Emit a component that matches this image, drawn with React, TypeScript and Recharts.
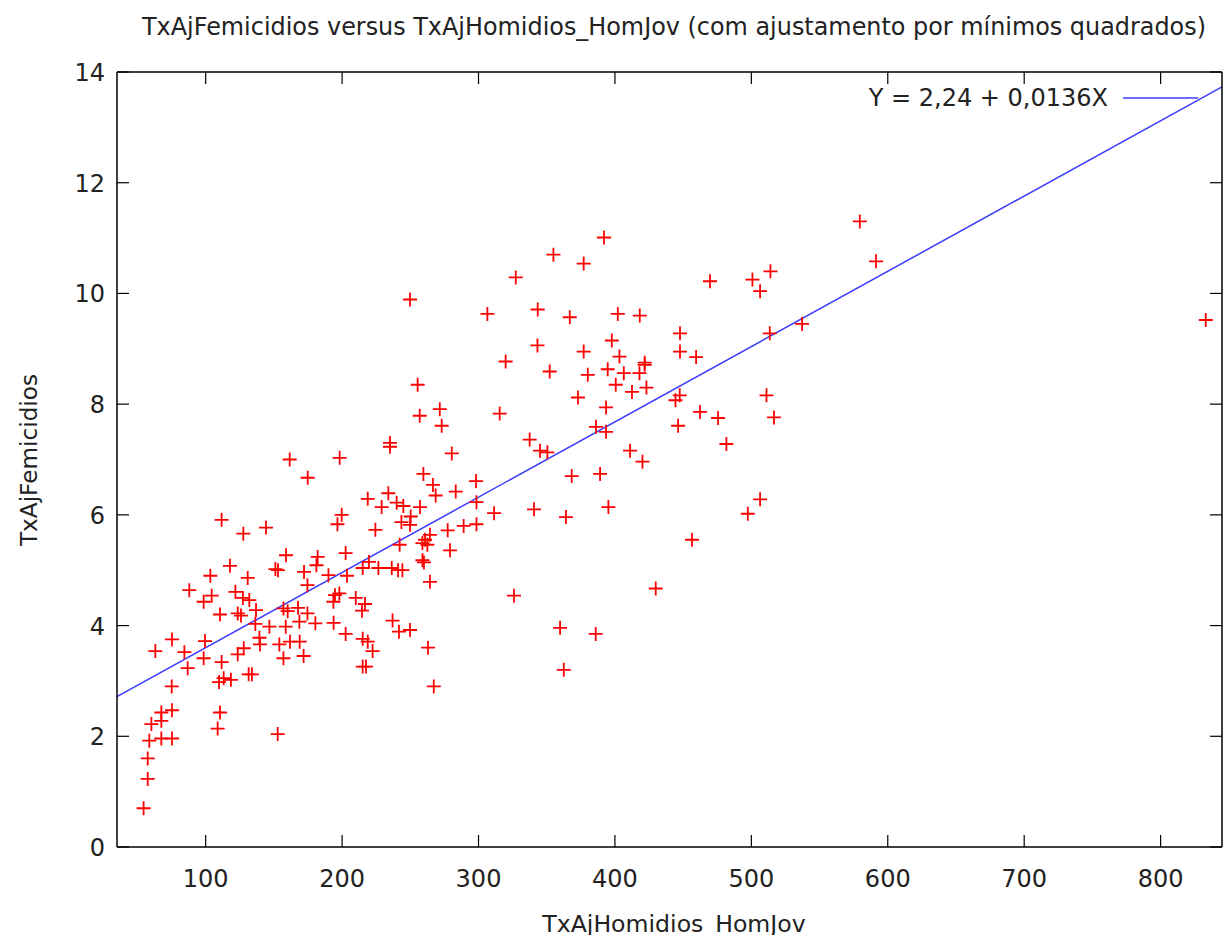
import React from 'react';
import { ScatterChart, Scatter, XAxis, YAxis, ReferenceLine, Customized } from 'recharts';

// TxAjHomidios_HomJov (x) per municipality
const homJov = [
  392.0, 354.9, 377.1, 327.3, 249.8, 306.5, 343.4, 366.9, 402.1, 418.2,
  343.2, 397.7, 377.1, 403.3, 421.8, 421.8, 319.9, 352.2, 380.1, 394.7,
  406.5, 418.0, 255.4, 400.6, 412.5, 423.1, 372.9, 393.5, 256.9, 271.6,
  273.0, 315.5, 386.1, 393.5, 235.1, 235.1, 337.5, 345.1, 350.5, 280.4,
  411.1, 579.5, 591.4, 469.7, 514.0, 500.8, 506.4, 537.2, 447.7, 513.5,
  447.7, 459.5, 447.5, 444.4, 511.1, 462.4, 475.6, 516.6, 446.3, 481.7,
  420.2, 506.4, 497.4, 456.5, 429.9, 833.1, 161.6, 198.2, 174.8, 218.8,
  233.9, 229.0, 199.7, 196.6, 224.4, 111.7, 127.6, 144.2, 158.9, 182.1,
  181.2, 202.6, 219.7, 215.1, 226.6, 236.4, 117.8, 151.1, 153.0, 172.1,
  103.4, 130.8, 190.0, 203.6, 174.6, 88.0, 121.8, 104.4, 98.5, 127.3,
  132.0, 194.8, 198.0, 193.6, 210.0, 216.8, 136.9, 110.5, 123.5, 125.9,
  157.0, 160.1, 167.7, 174.6, 214.6, 136.4, 146.7, 158.7, 168.7, 180.4,
  193.8, 237.0, 202.6, 75.3, 99.5, 139.4, 139.8, 154.0, 161.8, 168.9,
  215.1, 218.8, 63.1, 84.4, 127.9, 123.5, 222.4, 98.5, 86.8, 111.7,
  157.0, 171.8, 215.1, 217.5, 131.5, 133.9, 113.2, 109.8, 118.5, 75.1,
  67.5, 75.3, 67.5, 60.2, 110.5, 108.8, 58.7, 67.5, 75.3, 152.8,
  57.5, 57.5, 54.5, 259.6, 368.3, 389.1, 266.6, 268.6, 283.3, 298.2,
  298.5, 240.0, 244.9, 257.1, 311.4, 340.7, 364.1, 395.2, 250.3, 243.5,
  249.8, 289.1, 298.5, 277.4, 264.4, 260.8, 258.9, 262.5, 242.2, 279.1,
  258.9, 260.0, 241.0, 244.2, 264.4, 326.0, 241.7, 249.8, 359.8, 385.9,
  263.0, 362.5, 267.2,
];

// TxAjFemicidios (y), same order as homJov
const femicidios = [
  11.01, 10.70, 10.54, 10.29, 9.89, 9.63, 9.71, 9.57, 9.63, 9.60,
  9.06, 9.15, 8.95, 8.86, 8.75, 8.71, 8.77, 8.59, 8.53, 8.63,
  8.56, 8.56, 8.35, 8.35, 8.22, 8.30, 8.12, 7.94, 7.79, 7.91,
  7.61, 7.83, 7.59, 7.50, 7.30, 7.23, 7.36, 7.16, 7.13, 7.11,
  7.16, 11.30, 10.58, 10.22, 10.40, 10.25, 10.04, 9.45, 9.28, 9.28,
  8.95, 8.85, 8.16, 8.07, 8.16, 7.86, 7.75, 7.76, 7.61, 7.28,
  6.96, 6.28, 6.02, 5.55, 4.67, 9.52, 7.00, 7.03, 6.67, 6.29,
  6.39, 6.14, 6.00, 5.83, 5.73, 5.91, 5.66, 5.77, 5.27, 5.24,
  5.09, 5.31, 5.15, 5.04, 5.04, 5.04, 5.08, 5.02, 5.00, 4.97,
  4.90, 4.86, 4.91, 4.90, 4.73, 4.64, 4.61, 4.54, 4.43, 4.50,
  4.46, 4.55, 4.58, 4.43, 4.50, 4.39, 4.28, 4.20, 4.22, 4.18,
  4.31, 4.26, 4.32, 4.22, 4.27, 4.03, 3.98, 3.98, 4.07, 4.04,
  4.05, 4.09, 3.85, 3.75, 3.72, 3.78, 3.66, 3.66, 3.71, 3.71,
  3.76, 3.71, 3.54, 3.52, 3.59, 3.48, 3.54, 3.41, 3.23, 3.34,
  3.41, 3.45, 3.26, 3.26, 3.12, 3.12, 3.05, 2.98, 3.02, 2.90,
  2.43, 2.47, 2.28, 2.22, 2.43, 2.14, 1.92, 1.96, 1.96, 2.04,
  1.60, 1.23, 0.70, 6.74, 6.70, 6.74, 6.54, 6.35, 6.42, 6.61,
  6.23, 6.22, 6.16, 6.14, 6.03, 6.10, 5.96, 6.14, 5.97, 5.87,
  5.82, 5.80, 5.83, 5.72, 5.64, 5.55, 5.49, 5.46, 5.46, 5.36,
  5.18, 5.14, 5.00, 5.00, 4.79, 4.54, 3.89, 3.92, 3.96, 3.85,
  3.60, 3.20, 2.90,
];

const xTicks = [100, 200, 300, 400, 500, 600, 700, 800];
const yTicks = [0, 2, 4, 6, 8, 10, 12, 14];
const xDomain = [35, 845];
const yDomain = [0, 14];

// least squares fit: Y = a + bX
const intercept = 2.24;
const slope = 0.0136;

const title = 'TxAjFemicidios versus TxAjHomidios_HomJov (com ajustamento por mínimos quadrados)';
const xTitle = 'TxAjHomidios_HomJov';
const yTitle = 'TxAjFemicidios';

const points = homJov.map((x, i) => ({ x, y: femicidios[i] }));
const fitLabel = `Y = ${intercept.toFixed(2).replace('.', ',')} + ${slope.toFixed(4).replace('.', ',')}X`;

const FONT = 'DejaVu Sans';
const TEXT = '#222';
const FIT = '#3b3bff';
const TICK_LEN = 12;

const PlusMark = (props: any) => {
  const { cx, cy } = props;
  if (cx == null || cy == null) return null;
  return (
    <path
      d={`M${cx - 7},${cy}h14M${cx},${cy - 7}v14`}
      stroke="#ff0000"
      strokeWidth={1.8}
      fill="none"
    />
  );
};

// gnuplot style ticks: drawn inward from the frame, labels outside
const BottomTick = ({ x, y, payload }: any) => (
  <g>
    <line x1={x} y1={y} x2={x} y2={y - TICK_LEN} stroke="#000" strokeWidth={1.2} />
    <text x={x} y={y + 40} textAnchor="middle" fontSize={24} fontFamily={FONT} fill={TEXT}>
      {payload.value}
    </text>
  </g>
);

const TopTick = ({ x, y }: any) => (
  <line x1={x} y1={y} x2={x} y2={y + TICK_LEN} stroke="#000" strokeWidth={1.2} />
);

const LeftTick = ({ x, y, payload }: any) => (
  <g>
    <line x1={x} y1={y} x2={x + TICK_LEN} y2={y} stroke="#000" strokeWidth={1.2} />
    <text x={x - 12} y={y + 9} textAnchor="end" fontSize={24} fontFamily={FONT} fill={TEXT}>
      {payload.value}
    </text>
  </g>
);

const RightTick = ({ x, y }: any) => (
  <line x1={x} y1={y} x2={x - TICK_LEN} y2={y} stroke="#000" strokeWidth={1.2} />
);

// title, axis titles and the key for the fitted line
const Labels = () => (
  <g fontFamily={FONT} fill={TEXT}>
    <text x={674} y={35} fontSize={23.9} textAnchor="middle">{title}</text>
    <text x={674} y={932} fontSize={23.6} textAnchor="middle">{xTitle}</text>
    <text
      x={37}
      y={460}
      fontSize={23.2}
      textAnchor="middle"
      transform="rotate(-90 37 460)"
    >
      {yTitle}
    </text>
    <text x={1108} y={106} fontSize={24} textAnchor="end">{fitLabel}</text>
    <line x1={1123} y1={98} x2={1198} y2={98} stroke={FIT} strokeWidth={1.5} />
  </g>
);

export default function App() {
  return (
    <div style={{ position: 'absolute', left: 0, top: 0, fontFamily: FONT }}>
      <ScatterChart
        width={1223}
        height={935}
        margin={{ top: 71, right: 0, bottom: 0, left: 0 }}
      >
        <XAxis
          type="number"
          dataKey="x"
          domain={xDomain}
          ticks={xTicks}
          allowDataOverflow
          height={88}
          tickLine={false}
          tickSize={0}
          tickMargin={0}
          tick={BottomTick}
          stroke="#000"
          strokeWidth={1.5}
        />
        <XAxis
          xAxisId="top"
          orientation="top"
          type="number"
          dataKey="x"
          domain={xDomain}
          ticks={xTicks}
          allowDataOverflow
          height={1}
          tickLine={false}
          tickSize={0}
          tickMargin={0}
          tick={TopTick}
          stroke="#000"
          strokeWidth={1.5}
        />
        <YAxis
          type="number"
          dataKey="y"
          domain={yDomain}
          ticks={yTicks}
          allowDataOverflow
          width={117}
          tickLine={false}
          tickSize={0}
          tickMargin={0}
          tick={LeftTick}
          stroke="#000"
          strokeWidth={1.5}
        />
        <YAxis
          yAxisId="right"
          orientation="right"
          type="number"
          dataKey="y"
          domain={yDomain}
          ticks={yTicks}
          allowDataOverflow
          width={1}
          tickLine={false}
          tickSize={0}
          tickMargin={0}
          tick={RightTick}
          stroke="#000"
          strokeWidth={1.5}
        />
        <ReferenceLine
          segment={[
            { x: xDomain[0], y: intercept + slope * xDomain[0] },
            { x: xDomain[1], y: intercept + slope * xDomain[1] },
          ]}
          stroke={FIT}
          strokeWidth={1.5}
        />
        <Scatter data={points} shape={PlusMark} isAnimationActive={false} />
        <Customized component={Labels} />
      </ScatterChart>
    </div>
  );
}
